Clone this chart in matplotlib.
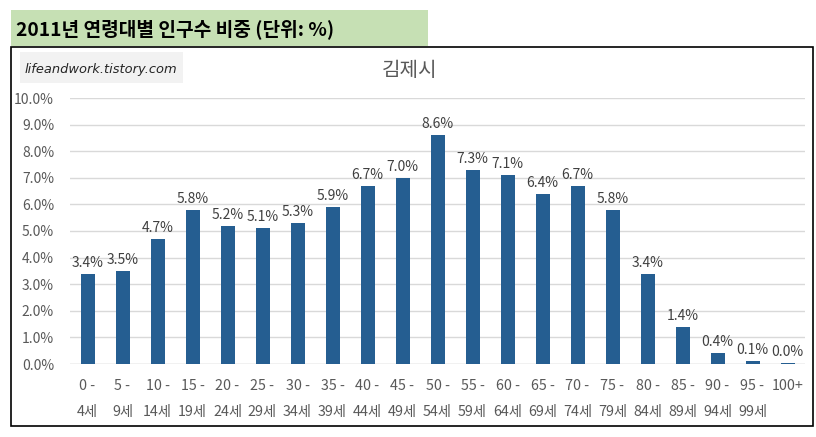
import matplotlib
matplotlib.use("Agg")
import matplotlib.pyplot as plt
from matplotlib.patches import Rectangle

plt.rcParams['font.family'] = ['Noto Sans CJK KR', 'DejaVu Sans']

# data
age_groups = ['0 -\n4세', '5 -\n9세', '10 -\n14세', '15 -\n19세', '20 -\n24세', '25 -\n29세',
              '30 -\n34세', '35 -\n39세', '40 -\n44세', '45 -\n49세', '50 -\n54세', '55 -\n59세',
              '60 -\n64세', '65 -\n69세', '70 -\n74세', '75 -\n79세', '80 -\n84세', '85 -\n89세',
              '90 -\n94세', '95 -\n99세', '100+\n ']
shares = [3.4, 3.5, 4.7, 5.8, 5.2, 5.1, 5.3, 5.9, 6.7, 7.0, 8.6, 7.3,
          7.1, 6.4, 6.7, 5.8, 3.4, 1.4, 0.4, 0.1, 0.04]
y_ticks = [0, 1, 2, 3, 4, 5, 6, 7, 8, 9, 10]

W, H = 816, 437
fig = plt.figure(figsize=(W / 100, H / 100), dpi=100)

def px(x0, y0, x1, y1):
    # pixel box (top-left origin) -> figure fraction rect
    return (x0 / W, 1 - y1 / H, (x1 - x0) / W, (y1 - y0) / H)

# green title box
x, y, w, h = px(11, 10, 428, 46)
fig.patches.append(Rectangle((x, y), w, h, transform=fig.transFigure,
                             facecolor='#C6E0B4', edgecolor='none', zorder=0))
fig.text(16 / W, 1 - 29 / H, '2011년 연령대별 인구수 비중 (단위: %)', fontsize=13.8,
         fontweight='bold', color='black', va='center', ha='left')

# chart border
x, y, w, h = px(11, 47, 813, 426)
fig.patches.append(Rectangle((x, y), w, h, transform=fig.transFigure,
                             facecolor='white', edgecolor='black', linewidth=1.2, zorder=0))

# watermark
x, y, w, h = px(20, 52, 183, 83)
fig.patches.append(Rectangle((x, y), w, h, transform=fig.transFigure,
                             facecolor='#F2F2F2', edgecolor='none', zorder=1))
fig.text(25 / W, 1 - 69 / H, 'lifeandwork.tistory.com', fontsize=9.4, style='italic',
         color='#262626', va='center', ha='left', family=['DejaVu Sans'])

fig.text(410 / W, 1 - 70 / H, '김제시', fontsize=14.5, color='#595959', ha='center', va='center')

ax = fig.add_axes(px(70, 98, 805, 364))
ax.set_zorder(3)
ax.set_facecolor('none')
xs = list(range(len(shares)))
bars = ax.bar(xs, shares, width=0.4, color='#255E91', zorder=3)
for xi, v in zip(xs, shares):
    ax.text(xi, v + 0.15, f'{v:.1f}%', ha='center', va='bottom', fontsize=10, color='#404040')

ax.set_xlim(-0.5, len(shares) - 0.5)
ax.set_ylim(0, 10)
ax.set_yticks(y_ticks)
ax.set_yticklabels([f'{t:.1f}%' for t in y_ticks])
ax.set_xticks(xs)
ax.set_xticklabels(age_groups, linespacing=2.1)
ax.tick_params(axis='both', length=0, labelsize=10.3, colors='#595959')
ax.tick_params(axis='x', pad=11)
ax.tick_params(axis='y', pad=11.5, labelsize=10)
ax.grid(axis='y', color='#D9D9D9', linewidth=1, zorder=0)
for s in ax.spines.values():
    s.set_visible(False)
ax.axhline(0, color='#D9D9D9', linewidth=1, zorder=2)

fig.savefig('out.png', dpi=100)
